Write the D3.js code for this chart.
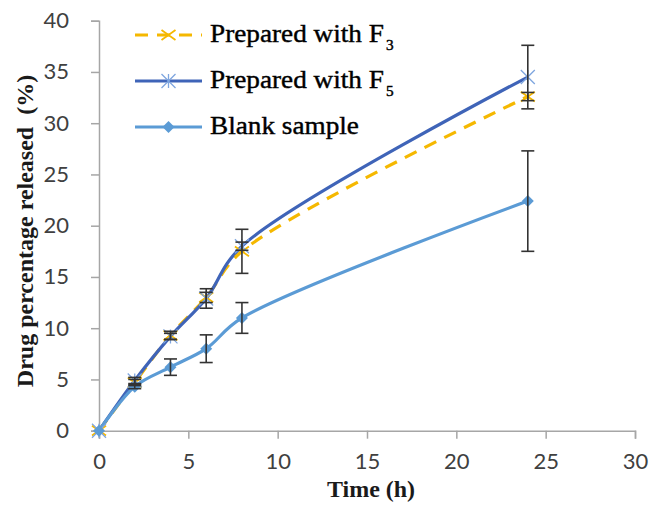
<!DOCTYPE html>
<html><head><meta charset="utf-8">
<script src="https://cdn.jsdelivr.net/npm/d3@7"></script>
<style>body{margin:0;background:#fff}svg{display:block}</style>
</head><body>
<svg id="c" width="651" height="506"></svg>
<script>
const times = [0, 2, 4, 6, 8, 24];
const f3Values = [0, 4.7, 9.3, 13.0, 17.5, 32.6];
const f3Errors = [0, 0.3, 0.4, 0.5, 2.15, 0.4];
const f5Values = [0, 4.9, 9.2, 12.9, 18.0, 34.5];
const f5Errors = [0, 0.3, 0.3, 0.95, 0.4, 3.1];
const blankValues = [0, 4.3, 6.2, 8.0, 11.0, 22.4];
const blankErrors = [0, 0.2, 0.8, 1.35, 1.5, 4.9];
const xTicks = [0, 5, 10, 15, 20, 25, 30];
const yTicks = [0, 5, 10, 15, 20, 25, 30, 35, 40];
const seriesNames = ["Prepared with F", "Prepared with F", "Blank sample"];
const seriesSubs = ["3", "5", ""];

const svg = d3.select("#c");
const x = d3.scaleLinear().domain([0, 30]).range([99, 635]);
const y = d3.scaleLinear().domain([0, 40]).range([430.7, 20.7]);
const axisColor = "#a6a6a6";
const sans = "Lato, 'Open Sans', sans-serif";
const serif = "'Liberation Serif', 'Times New Roman', serif";

// axes
const gx = svg.append("g").attr("transform", `translate(0,${y(0)})`)
  .call(d3.axisBottom(x).tickValues(xTicks).tickSize(8).tickPadding(15));
const gy = svg.append("g").attr("transform", `translate(${x(0)},0)`)
  .call(d3.axisLeft(y).tickValues(yTicks).tickSize(8).tickPadding(22));
[gx, gy].forEach(g => {
  g.select(".domain").attr("stroke", axisColor).attr("stroke-width", 1.5);
  g.selectAll(".tick line").attr("stroke", axisColor).attr("stroke-width", 1.5);
  g.selectAll(".tick text").attr("fill", "#404040").attr("font-size", 22).attr("font-family", sans);
});

// titles
svg.append("text").attr("x", 371).attr("y", 497).attr("text-anchor", "middle")
  .attr("font-family", serif).attr("font-weight", "bold").attr("font-size", 24).attr("fill", "#1a1a1a")
  .text("Time (h)");
svg.append("text").attr("transform", `translate(33,231) rotate(-90)`).attr("text-anchor", "middle")
  .attr("xml:space", "preserve").style("white-space", "pre")
  .attr("font-family", serif).attr("font-weight", "bold").attr("font-size", 24).attr("fill", "#1a1a1a")
  .text("Drug percentage released  (%)");

const colors = ["#f5b800", "#3f64b8", "#5b9bd5"];
const valuesList = [f3Values, f5Values, blankValues];
const errorsList = [f3Errors, f5Errors, blankErrors];

const line = d3.line().x(d => x(d[0])).y(d => y(d[1])).curve(d3.curveCatmullRom.alpha(0.5));

function marker(g, type, cx, cy, color, s) {
  if (type === 0) {
    g.append("path").attr("d", `M${cx-s},${cy-s*0.7}L${cx+s},${cy+s*0.7}M${cx-s},${cy+s*0.7}L${cx+s},${cy-s*0.7}`)
      .attr("stroke", color).attr("stroke-width", 1.8).attr("fill", "none");
  } else if (type === 1) {
    g.append("path").attr("d", `M${cx-s},${cy-s}L${cx+s},${cy+s}M${cx-s},${cy+s}L${cx+s},${cy-s}M${cx},${cy-s}L${cx},${cy+s}`)
      .attr("stroke", "#7fa6df").attr("stroke-width", 1.3).attr("fill", "none");
  } else {
    g.append("path").attr("d", `M${cx},${cy-s}L${cx+s},${cy}L${cx},${cy+s}L${cx-s},${cy}Z`).attr("fill", color);
  }
}

const order = [0, 1, 2];
// lines
order.forEach(i => {
  const pts = times.map((t, j) => [t, valuesList[i][j]]);
  const p = svg.append("path").attr("d", line(pts)).attr("fill", "none")
    .attr("stroke", colors[i]).attr("stroke-width", 3.2);
  if (i === 0) p.attr("stroke-dasharray", "13,9");
});
// markers
order.forEach(i => {
  const g = svg.append("g");
  times.forEach((t, j) => marker(g, i, x(t), y(valuesList[i][j]), colors[i], i === 2 ? 6 : 7));
});
// error bars
order.forEach(i => {
  const g = svg.append("g").attr("stroke", "#333").attr("stroke-width", 1.6);
  times.forEach((t, j) => {
    const e = errorsList[i][j];
    if (!e) return;
    const v = valuesList[i][j];
    const cx = x(t);
    g.append("line").attr("x1", cx).attr("x2", cx).attr("y1", y(v + e)).attr("y2", y(v - e));
    g.append("line").attr("x1", cx - 6.5).attr("x2", cx + 6.5).attr("y1", y(v + e)).attr("y2", y(v + e));
    g.append("line").attr("x1", cx - 6.5).attr("x2", cx + 6.5).attr("y1", y(v - e)).attr("y2", y(v - e));
  });
});

// legend
const legY = [35, 81, 127];
order.forEach(i => {
  const g = svg.append("g");
  const ly = legY[i];
  const l = g.append("line").attr("x1", 135).attr("x2", 202).attr("y1", ly).attr("y2", ly)
    .attr("stroke", colors[i]).attr("stroke-width", 3.2);
  if (i === 0) l.attr("stroke-dasharray", "13,9");
  marker(g, i, 168.5, ly, colors[i], i === 2 ? 6 : 7);
  const t = g.append("text").attr("transform", `translate(210,${ly + 7}) scale(1.09,1)`).attr("font-family", serif)
    .attr("font-size", 25).attr("fill", "#000").attr("stroke", "#000").attr("stroke-width", 0.4).text(seriesNames[i]);
  if (seriesSubs[i]) t.append("tspan").attr("font-size", 14).attr("dy", 8).attr("dx", 2).text(seriesSubs[i]);
});
</script>
</body></html>
